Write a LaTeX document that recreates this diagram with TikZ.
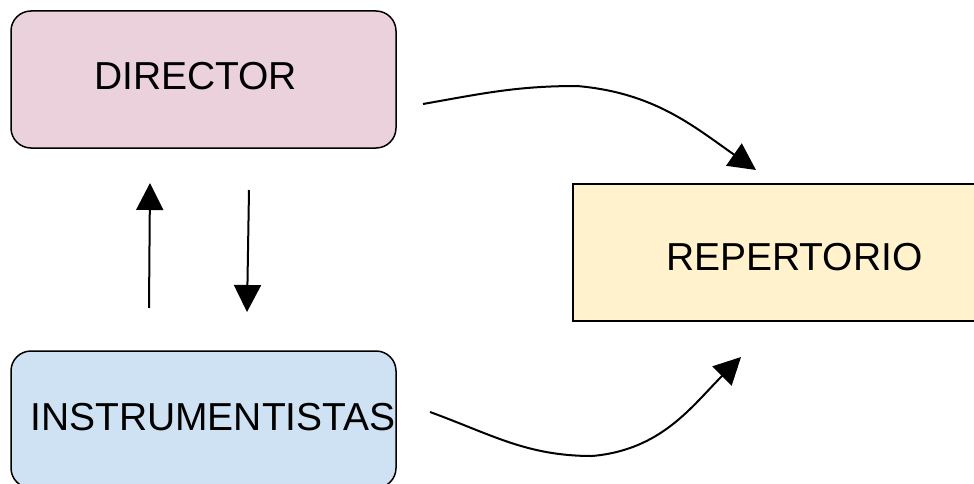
\documentclass[tikz,border=0pt]{standalone}
\usepackage{fontspec}
\setmainfont{Liberation Sans}
\usetikzlibrary{arrows.meta}
\definecolor{pinkc}{HTML}{EAD1DC}
\definecolor{bluec}{HTML}{CFE2F3}
\definecolor{yellowc}{HTML}{FFF2CC}
\tikzset{
  box/.style={draw=black, line width=1.5pt, inner sep=0pt, minimum width=385pt, minimum height=137pt},
  lbl/.style={font=\fontsize{39}{41}\selectfont, inner sep=0pt, anchor=base west},
  conn/.style={line width=2pt, -{Triangle[length=27pt,width=27pt]}}
}
\begin{document}
\begin{tikzpicture}[x=1pt,y=-1pt]
\clip (0,0) rectangle (974,484);
\fill[white] (0,0) rectangle (974,484);
\node[box, fill=pinkc, rounded corners=20pt] (director) at (203.5,79.5) {};
\node[box, fill=bluec, rounded corners=20pt] (instr) at (203.5,419.5) {};
\node[box, fill=yellowc, minimum width=415pt] (rep) at (780.5,252.5) {};
\node[lbl] (dirtext) at (94,90) {DIRECTOR};
\node[lbl] (instrtext) at (30,430) {INSTRUMENTISTAS};
\node[lbl] (reptext) at (666,270) {REPERTORIO};
\coordinate (upS) at (149,308);
\coordinate (upE) at (150,183);
\coordinate (dnS) at (249,190);
\coordinate (dnE) at (247,312);
\coordinate (tS) at (423,104);
\coordinate (tM) at (577,86);
\coordinate (tE) at (756,170);
\coordinate (bS) at (430,412);
\coordinate (bM) at (592,456);
\coordinate (bE) at (741,357);
\draw[conn] (upS) -- (upE);
\draw[conn] (dnS) -- (dnE);
\draw[conn] (tS) to[out=10,in=180] (tM) to[out=-5,in=145] (tE);
\draw[conn] (bS) to[out=-20,in=180] (bM) to[out=5,in=-135] (bE);
\end{tikzpicture}
\end{document}
